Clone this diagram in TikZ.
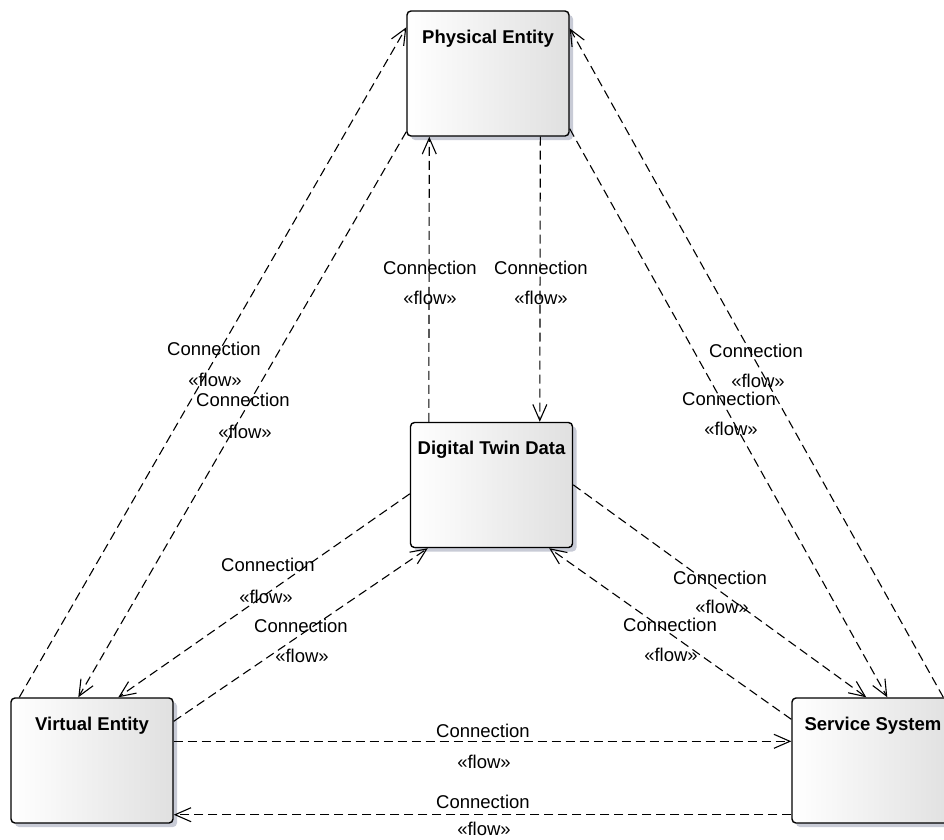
\documentclass[tikz,border=0pt]{standalone}
\usepackage{fontspec}
\setmainfont{Liberation Sans}
\usetikzlibrary{arrows.meta,shadows}
\definecolor{shadowgray}{RGB}{200,203,214}
\definecolor{fillgray}{RGB}{224,224,224}

\begin{document}
\begin{tikzpicture}[x=1pt,y=-1pt,
  block/.style={draw=black,line width=1.4pt,rounded corners=4pt,minimum width=162pt,minimum height=125pt,
    left color=white,right color=fillgray,
    drop shadow={shadow xshift=4pt,shadow yshift=-4pt,fill=shadowgray,opacity=1}},
  title/.style={font=\fontsize{18.5}{20}\selectfont\bfseries,inner sep=0pt},
  lbl/.style={font=\fontsize{18.5}{21}\selectfont,inner sep=0pt},
  flow/.style={line width=1.1pt,dash pattern=on 9pt off 5pt,-{Straight Barb[length=16pt,width=14pt]}}]
\useasboundingbox (0,0) rectangle (944,839);
\node[block] (pe) at (488,73.5) {};
\node[title] (pet) at ([yshift=-28pt]pe.north) {Physical Entity};
\node[block] (dtd) at (491.5,485) {};
\node[title] (dtdt) at ([yshift=-28pt]dtd.north) {Digital Twin Data};
\node[block] (ve) at (92,760.5) {};
\node[title] (vet) at ([yshift=-28pt]ve.north) {Virtual Entity};
\node[block] (ss) at (873,760.5) {};
\node[title] (sst) at ([yshift=-28pt]ss.north) {Service System};
\draw[flow] ([xshift=9pt]ve.north west) -- ([yshift=-17pt]pe.north west);
\draw[flow] ([yshift=5pt]pe.south west) -- ([xshift=68pt]ve.north west);
\draw[flow] ([xshift=19pt]dtd.north west) -- ([xshift=23pt]pe.south west);
\draw[flow] ([xshift=134pt]pe.south west) -- ([xshift=130pt]dtd.north west);
\draw[flow] ([xshift=152pt]ss.north west) -- ([yshift=-18pt]pe.north east);
\draw[flow] ([yshift=8pt]pe.south east) -- ([xshift=96pt]ss.north west);
\draw[flow] ([yshift=-72pt]dtd.north west) -- ([xshift=108pt]ve.north west);
\draw[flow] ([yshift=-24pt]ve.north east) -- ([xshift=18pt]dtd.south west);
\draw[flow] ([yshift=-63pt]dtd.north east) -- ([xshift=75pt]ss.north west);
\draw[flow] ([yshift=-22pt]ss.north west) -- ([xshift=-24pt]dtd.south east);
\draw[flow] ([yshift=-44pt]ve.north east) -- ([yshift=-44pt]ss.north west);
\draw[flow] ([yshift=9pt]ss.south west) -- ([yshift=9pt]ve.south east);
\node[lbl] (c1) at (214,349) {Connection};
\node[lbl] (f1) at (215,380) {«flow»};
\node[lbl] (c2) at (243,400) {Connection};
\node[lbl] (f2) at (245,432) {«flow»};
\node[lbl] (c3) at (430,268) {Connection};
\node[lbl] (f3) at (430,298) {«flow»};
\node[lbl] (c4) at (541,268) {Connection};
\node[lbl] (f4) at (541,298) {«flow»};
\node[lbl] (c5) at (756,351) {Connection};
\node[lbl] (f5) at (758,381) {«flow»};
\node[lbl] (c6) at (729,399) {Connection};
\node[lbl] (f6) at (731,429) {«flow»};
\node[lbl] (c7) at (268,565) {Connection};
\node[lbl] (f7) at (266,597) {«flow»};
\node[lbl] (c8) at (301,626) {Connection};
\node[lbl] (f8) at (302,656) {«flow»};
\node[lbl] (c9) at (720,578) {Connection};
\node[lbl] (f9) at (722,607) {«flow»};
\node[lbl] (c10) at (670,625) {Connection};
\node[lbl] (f10) at (671,655) {«flow»};
\node[lbl] (c11) at (483,731) {Connection};
\node[lbl] (f11) at (484,762) {«flow»};
\node[lbl] (c12) at (483,802) {Connection};
\node[lbl] (f12) at (484,829) {«flow»};
\end{tikzpicture}
\end{document}
